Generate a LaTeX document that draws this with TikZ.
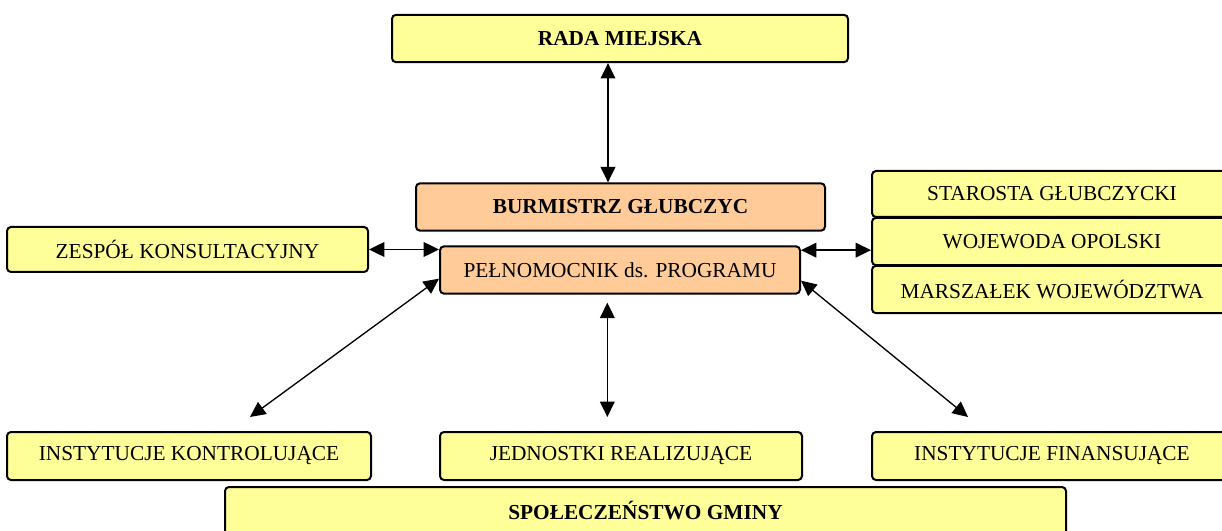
\documentclass[tikz,border=0pt]{standalone}
\usepackage{fontspec}
\setmainfont{Liberation Serif}
\usetikzlibrary{arrows.meta}
\definecolor{boxyellow}{HTML}{FFFF99}
\definecolor{boxorange}{HTML}{FFCC99}
\tikzset{
  unit/.style={draw, line width=1.5pt, rounded corners=3pt, fill=boxyellow,
    minimum width=270pt, minimum height=35.5pt, inner sep=0pt,
    font=\fontsize{16}{19}\selectfont},
  head/.style={unit, fill=boxorange},
  link/.style={line width=1pt, >={Triangle[length=11.5pt,width=11pt]}, <->}
}
\begin{document}
\begin{tikzpicture}[x=0.75pt,y=-0.75pt]
\useasboundingbox (0,0) rectangle (1222,531);
% Draw top and centre
\node[unit, minimum width=342pt, font=\fontsize{16}{19}\selectfont\bfseries] (rada) at (620,38.5) {RADA MIEJSKA};
\node[head, minimum width=306.75pt, font=\fontsize{16}{19}\selectfont\bfseries] (burm) at (620.5,207) {BURMISTRZ GŁUBCZYC};
\node[head] (pelno) at (620,270) {PEŁNOMOCNIK ds. PROGRAMU};
% Draw side units
\node[unit, minimum width=270.75pt, minimum height=33.75pt] (zespol) at (187.5,249.5) {ZESPÓŁ KONSULTACYJNY};
\node[unit, minimum height=34.5pt] (starosta) at (1052,194) {STAROSTA GŁUBCZYCKI};
\node[unit] (woj) at (1052,241.5) {WOJEWODA OPOLSKI};
\node[unit] (marsz) at (1052,289.5) {MARSZAŁEK WOJEWÓDZTWA};
% Draw bottom units
\node[unit, minimum width=273pt, minimum height=36pt] (kontrol) at (189,456) {INSTYTUCJE KONTROLUJĄCE};
\node[unit, minimum width=271.5pt, minimum height=36pt] (jedn) at (621,456) {JEDNOSTKI REALIZUJĄCE};
\node[unit, minimum height=36pt] (finans) at (1052,456) {INSTYTUCJE FINANSUJĄCE};
\node[unit, minimum width=630.75pt, minimum height=36pt, font=\fontsize{16}{19}\selectfont\bfseries] (spol) at (645.5,511) {SPOŁECZEŃSTWO GMINY};
% Draw links
\coordinate (radaout) at ([xshift=-9pt]rada.south);
\coordinate (pelnoout) at ([xshift=-9.5pt,yshift=-6pt]pelno.south);
\coordinate (wojin) at ([yshift=-6.5pt]woj.west);
\draw[link] (radaout) -- (radaout |- burm.north);
\draw[link] (zespol.east) -- (zespol.east -| pelno.west);
\draw[link] (wojin -| pelno.east) -- (wojin);
\draw[link] ([yshift=-6.5pt]pelno.west) -- ([xshift=45.75pt,yshift=10.5pt]kontrol.north);
\draw[link] (pelnoout) -- ([yshift=10.5pt]pelnoout |- jedn.north);
\draw[link] ([yshift=-8pt]pelno.east) -- ([xshift=-63pt,yshift=10.5pt]finans.north);
\end{tikzpicture}
\end{document}
